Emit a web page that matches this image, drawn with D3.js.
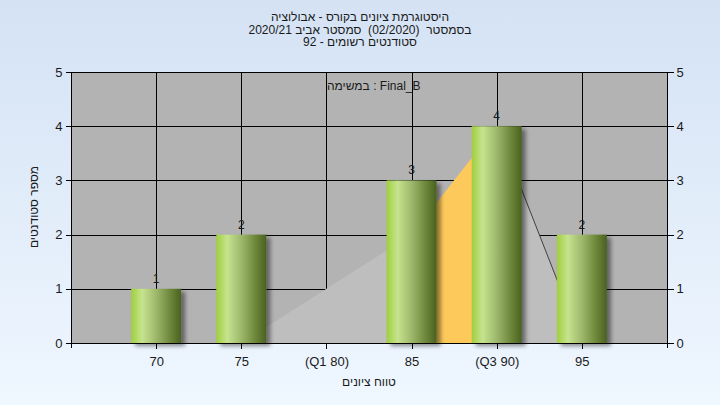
<!DOCTYPE html>
<html>
<head>
<meta charset="utf-8">
<script src="https://cdn.jsdelivr.net/npm/d3@7"></script>
<style>
html,body{margin:0;padding:0;}
body{width:720px;height:405px;overflow:hidden;}
text{font-family:"Liberation Sans",Arial,"DejaVu Sans",sans-serif;white-space:pre;}
</style>
</head>
<body>
<svg id="chart" width="720" height="405"></svg>
<script>
// ---- data ----
const grades = [70, 75, 80, 85, 90, 95];
const tickLabels = ["70", "75", "(Q1 80)", "85", "(Q3 90)", "95"];
const counts = [1, 2, 0, 3, 4, 2];
const curveGrades = [75, 80, 85, 90, 95];
const curveValues = [0, 1, 2, 4, 0];
const highlightGrades = [85, 90];
const highlightValues = [2, 4];
const yTicks = [0, 1, 2, 3, 4, 5];
const titleLines = [
  "היסטוגרמת ציונים בקורס - אבולוציה",
  "בסמסטר  (02/2020)  סמסטר אביב 2020/21",
  "סטודנטים רשומים - 92"
];
const legendText = "במשימה : Final_B";
const yAxisTitle = "מספר סטודנטים";
const xAxisTitle = "טווח ציונים";

// ---- layout ----
const L = 71, R = 667, T = 72, B = 343;
const svg = d3.select("#chart");
const defs = svg.append("defs");

const bg = defs.append("linearGradient").attr("id", "bg").attr("x1", 0).attr("y1", 0).attr("x2", 0).attr("y2", 1);
bg.append("stop").attr("offset", "0%").attr("stop-color", "#d4e2f4");
bg.append("stop").attr("offset", "100%").attr("stop-color", "#eff7ff");

const bar = defs.append("linearGradient").attr("id", "bar").attr("x1", 0).attr("y1", 0).attr("x2", 1).attr("y2", 0);
[["0%", "#a0cf3e"], ["22%", "#c6e38e"], ["50%", "#9db86c"], ["80%", "#6a8437"], ["100%", "#4a6122"]]
  .forEach(([o, c]) => bar.append("stop").attr("offset", o).attr("stop-color", c));

const sh = defs.append("filter").attr("id", "shadow").attr("x", "-20%").attr("y", "-20%").attr("width", "150%").attr("height", "150%");
sh.append("feDropShadow").attr("dx", 4).attr("dy", 3).attr("stdDeviation", 2).attr("flood-color", "#000").attr("flood-opacity", 0.45);

svg.append("rect").attr("width", 720).attr("height", 405).attr("fill", "url(#bg)");

const x = d3.scaleLinear().domain([65, 100]).range([L, R]);
const y = d3.scaleLinear().domain([0, 5]).range([B, T]);

// plot background
svg.append("rect").attr("x", L).attr("y", T).attr("width", R - L).attr("height", B - T).attr("fill", "#b3b3b3");

// grid
const grid = svg.append("g").attr("stroke", "#000").attr("stroke-width", 1).attr("shape-rendering", "crispEdges");
yTicks.forEach(v => grid.append("line").attr("x1", L).attr("x2", R).attr("y1", Math.round(y(v)) + 0.5).attr("y2", Math.round(y(v)) + 0.5));
grades.forEach(g => grid.append("line").attr("x1", Math.round(x(g)) + 0.5).attr("x2", Math.round(x(g)) + 0.5).attr("y1", T).attr("y2", B));

// area curve
const curve = curveGrades.map((g, i) => [g, curveValues[i]]);
const area = d3.area().x(d => x(d[0])).y0(y(0)).y1(d => y(d[1]));
svg.append("path").datum(curve).attr("d", area).attr("fill", "#bebebe");
const hl = highlightGrades.map((g, i) => [g, highlightValues[i]]);
svg.append("path").datum(hl).attr("d", area).attr("fill", "#fdc95a");
svg.append("path").datum(curve.slice(3)).attr("d", d3.line().x(d => x(d[0])).y(d => y(d[1])))
  .attr("fill", "none").attr("stroke", "#404040").attr("stroke-width", 1);

// axes lines
const ax = svg.append("g").attr("stroke", "#000").attr("stroke-width", 1).attr("shape-rendering", "crispEdges");
ax.append("line").attr("x1", L + 0.5).attr("x2", L + 0.5).attr("y1", T).attr("y2", B + 5);
ax.append("line").attr("x1", R + 0.5).attr("x2", R + 0.5).attr("y1", T).attr("y2", B + 5);
ax.append("line").attr("x1", L).attr("x2", R + 1).attr("y1", B + 0.5).attr("y2", B + 0.5);

// bars
const bw = 50;
const bars = grades.map((g, i) => ({ g, v: counts[i] })).filter(d => d.v > 0);
svg.append("g").selectAll("rect").data(bars).join("rect")
  .attr("x", d => x(d.g) - bw / 2).attr("width", bw)
  .attr("y", d => y(d.v)).attr("height", d => y(0) - y(d.v))
  .attr("fill", "url(#bar)").attr("filter", "url(#shadow)");

svg.append("g").selectAll("text").data(bars).join("text")
  .attr("x", d => x(d.g)).attr("y", d => y(d.v) - 6)
  .attr("text-anchor", "middle").attr("font-size", 12).attr("fill", "#1a1a1a").text(d => d.v);

// axes
const yAxisL = d3.axisLeft(y).tickValues(yTicks).tickSize(6).tickPadding(3).tickFormat(d3.format("d"));
const gl = svg.append("g").attr("transform", `translate(${L + 0.5},0)`).call(yAxisL);
const yAxisR = d3.axisRight(y).tickValues(yTicks).tickSize(6).tickPadding(3).tickFormat(d3.format("d"));
const gr = svg.append("g").attr("transform", `translate(${R + 0.5},0)`).call(yAxisR);
const xAxis = d3.axisBottom(x).tickValues(grades).tickSize(5).tickPadding(8).tickFormat((d, i) => tickLabels[i]);
const gx = svg.append("g").attr("transform", `translate(0,${B + 0.5})`).call(xAxis);
[gl, gr, gx].forEach(g => {
  g.select(".domain").remove();
  g.selectAll("line").attr("stroke", "#000").attr("shape-rendering", "crispEdges");
  g.selectAll("text").attr("font-size", 13).attr("fill", "#1a1a1a").attr("font-family", "\"Liberation Sans\",Arial,sans-serif");
});

// titles
titleLines.forEach((t, i) => {
  svg.append("text").attr("x", 360).attr("y", 21 + i * 12.5).attr("text-anchor", "middle")
    .attr("direction", "rtl").attr("font-size", 12).attr("fill", "#1a1a1a").text(t);
});
svg.append("text").attr("x", 327).attr("y", 90).attr("font-size", 12).attr("fill", "#1a1a1a").text(legendText);

svg.append("text").attr("transform", `translate(38,207) rotate(-90)`).attr("text-anchor", "middle")
  .attr("direction", "rtl").attr("font-size", 12).attr("fill", "#1a1a1a").text(yAxisTitle);
svg.append("text").attr("x", 369).attr("y", 386).attr("text-anchor", "middle")
  .attr("direction", "rtl").attr("font-size", 12).attr("fill", "#1a1a1a").text(xAxisTitle);
</script>
</body>
</html>
